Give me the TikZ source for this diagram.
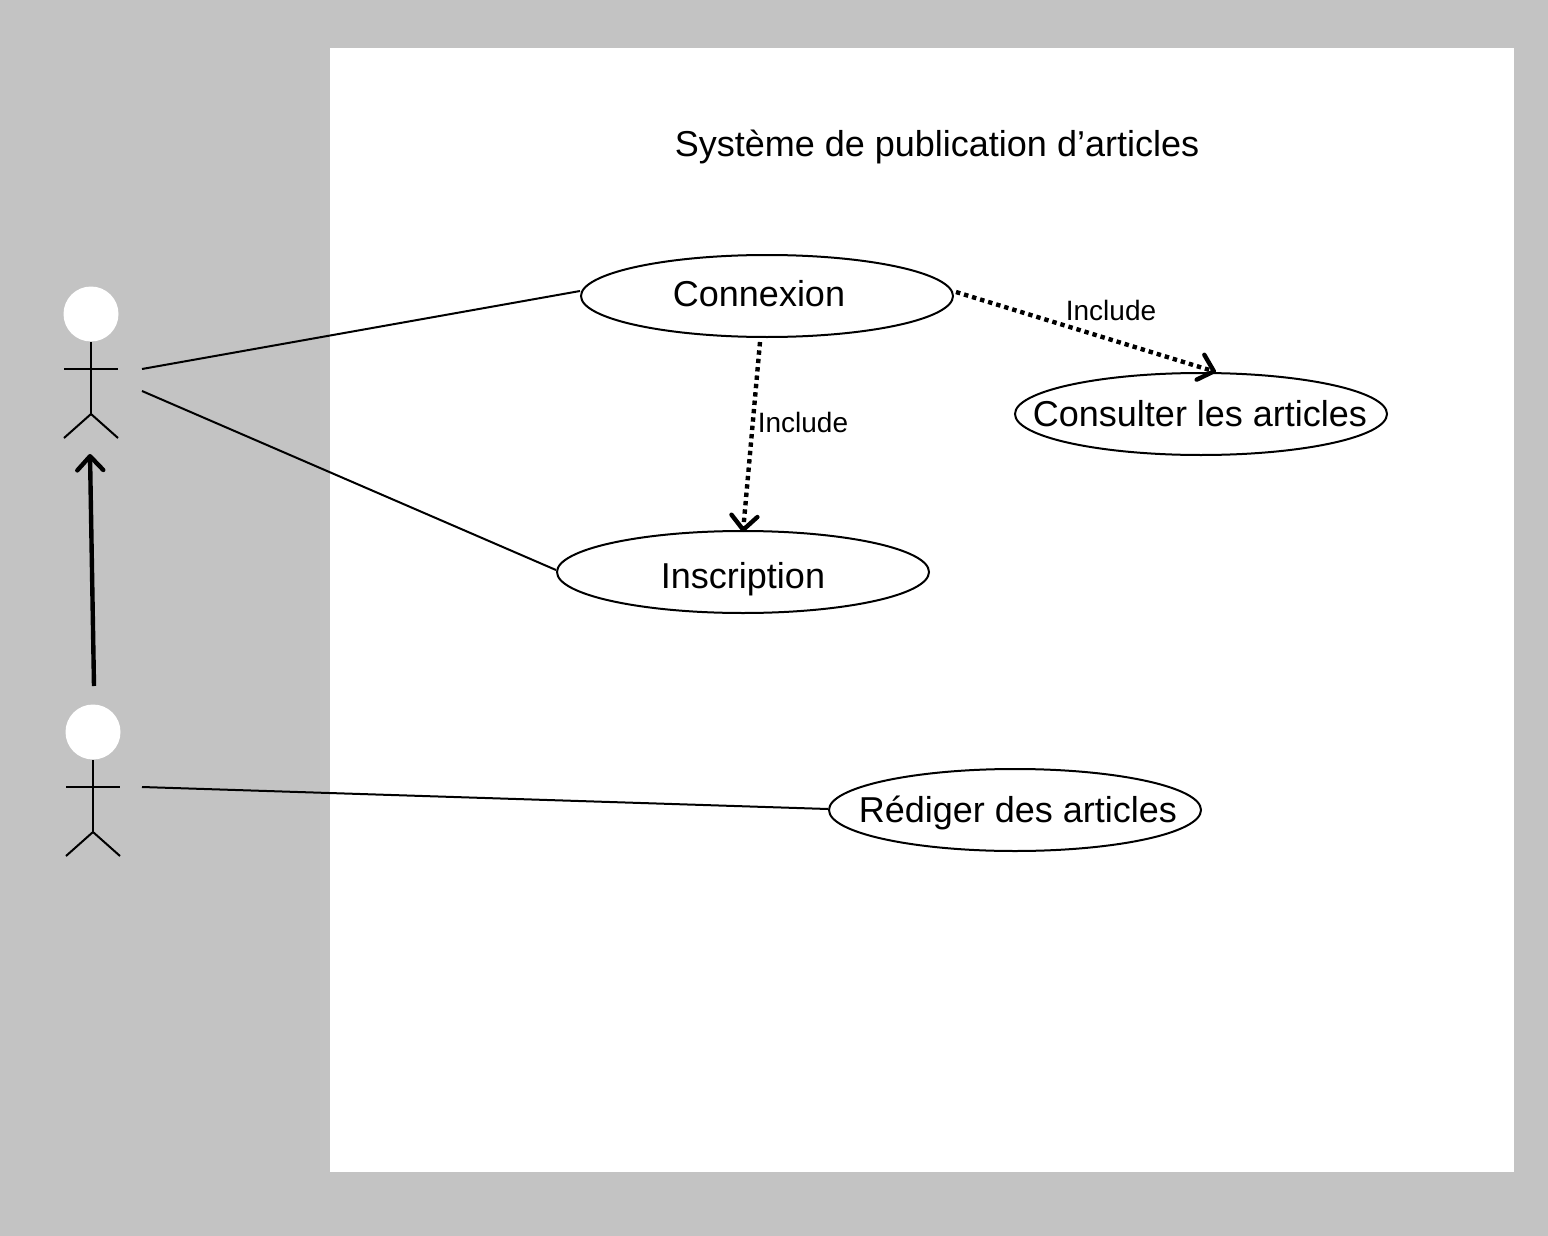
\documentclass[tikz,border=0pt]{standalone}
\usepackage{fontspec}
\setmainfont{Liberation Sans}
\usetikzlibrary{shapes.geometric,arrows.meta}
\definecolor{bggray}{HTML}{C3C3C3}
\tikzset{
  x=0.5pt,y=-0.5pt,
  thin line/.style={line width=1pt,black},
  usecase/.style={ellipse,draw=black,line width=1pt,fill=white,inner sep=0pt,minimum width=186pt,minimum height=41pt},
  uclabel/.style={font=\fontsize{18pt}{20pt}\selectfont,inner sep=0pt},
  incllabel/.style={font=\fontsize{14pt}{16pt}\selectfont,inner sep=0pt},
  dep/.style={line width=2.2pt,dash pattern=on 2.2pt off 2pt,-{Straight Barb[length=7pt,width=13pt,line width=2.2pt,round]}},
  gen/.style={line width=2.2pt,-{Straight Barb[length=7pt,width=13pt,line width=2.2pt,round]}},
  head/.style={circle,fill=white,draw=none,minimum size=27.5pt,inner sep=0pt}
}
\newcommand{\stickman}[3]{%
  \begin{scope}[shift={(#2,#3)}]
    \node[head] (#1) at (0,0) {};
    \coordinate (#1neck) at (0,28);
    \coordinate (#1hip) at (0,100);
    \draw[thin line] (#1neck) -- (#1hip);
    \draw[thin line] (-27,55) -- (27,55);
    \draw[thin line] (-27,124) -- (#1hip) -- (27,124);
  \end{scope}}
\begin{document}
\begin{tikzpicture}
\useasboundingbox (0,0) rectangle (1548,1236);
\fill[bggray] (0,0) rectangle (1548,1236);
\fill[white] (330,48) rectangle (1514,1172);
\node[uclabel] (title) at (937,147) {Système de publication d’articles};
\node[usecase] (cx) at (767,296) {};
\node[usecase] (cs) at (1201,414) {};
\node[usecase] (in) at (743,572) {};
\node[usecase] (rd) at (1015,810) {};
\node[uclabel] (cxt) at (759,294) {Connexion};
\node[uclabel] (cst) at (1200,414) {Consulter les articles};
\node[uclabel] (int) at (743,579) {Inscription};
\node[uclabel] (rdt) at (1018,813) {Rédiger des articles};
\stickman{a}{91}{314}
\stickman{b}{93}{732}
\coordinate (a1) at (142,369);
\coordinate (a2) at (142,391);
\coordinate (b1) at (142,787);
\coordinate (gs) at (94,686);
\coordinate (ge) at (90,454);
\coordinate (cxb) at (760,342);
\coordinate (cst0) at (1216,372);
\coordinate (inb) at (743,532);
\draw[thin line] (a1) -- ([shift={(0,-5)}]cx.west);
\draw[thin line] (a2) -- ([shift={(0,-2)}]in.west);
\draw[thin line] (b1) -- ([shift={(0,-1)}]rd.west);
\draw[gen] (gs) -- (ge);
\draw[dep] ([shift={(2,-4)}]cx.east) -- (cst0);
\draw[dep] (cxb) -- (inb);
\node[incllabel] (l1) at (1111,310) {Include};
\node[incllabel] (l2) at (803,422) {Include};
\end{tikzpicture}
\end{document}
